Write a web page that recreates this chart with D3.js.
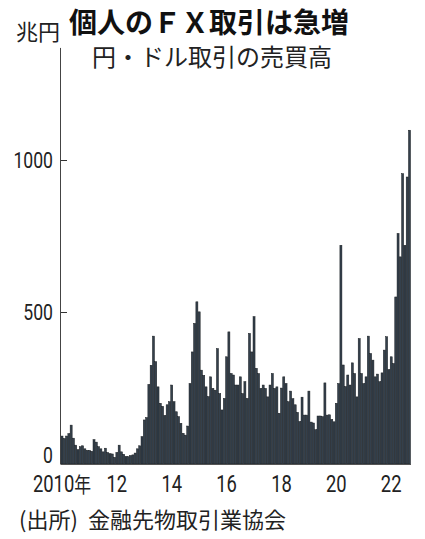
<!DOCTYPE html>
<html><head><meta charset="utf-8">
<script src="https://cdn.jsdelivr.net/npm/d3@7"></script>
<style>html,body{margin:0;padding:0;background:#fff;} svg{display:block}</style>
</head><body><svg id="c" width="425" height="539"></svg>
<script>
// ---- data (兆円, monthly, 2010/01 - 2022/09) ----
const years = [2010, 2011, 2012, 2013, 2014, 2015, 2016, 2017, 2018, 2019, 2020, 2021, 2022];
const v2010 = [92, 84, 92, 100, 128, 85, 62, 47, 57, 60, 50, 45];
const v2011 = [45, 42, 80, 72, 57, 50, 40, 52, 38, 34, 33, 22];
const v2012 = [38, 62, 40, 32, 25, 24, 28, 30, 36, 50, 60, 90];
const v2013 = [145, 153, 262, 325, 421, 337, 254, 200, 190, 160, 195, 205];
const v2014 = [260, 205, 172, 156, 134, 101, 95, 125, 265, 369, 463, 534];
const v2015 = [501, 309, 292, 254, 222, 287, 249, 243, 380, 232, 178, 216];
const v2016 = [353, 435, 298, 293, 260, 260, 287, 232, 271, 216, 430, 369];
const v2017 = [485, 315, 298, 249, 260, 249, 221, 260, 298, 249, 254, 167];
const v2018 = [250, 287, 265, 205, 240, 215, 195, 170, 140, 220, 161, 161];
const v2019 = [240, 138, 135, 113, 158, 158, 156, 267, 161, 162, 147, 139];
const v2020 = [200, 265, 720, 326, 255, 293, 260, 333, 298, 221, 413, 298];
const v2021 = [265, 287, 421, 364, 342, 287, 296, 271, 300, 375, 419, 311];
const v2022 = [353, 331, 550, 759, 682, 956, 720, 945, 1099];
const series = [v2010, v2011, v2012, v2013, v2014, v2015, v2016, v2017, v2018, v2019, v2020, v2021, v2022];

const xTickKeys = ["2010-01", "2012-01", "2014-01", "2016-01", "2018-01", "2020-01", "2022-01"];
const xTickLabels = ["2010年", "12", "14", "16", "18", "20", "22"];
const yTicks = [0, 500, 1000];
const yTickLabels = ["0", "500", "1000"];

const titleText = "個人のＦＸ取引は急増";
const subtitleText = "円・ドル取引の売買高";
const unitText = "兆円";
const sourceLabel = "(出所)";
const sourceText = "金融先物取引業協会";

// ---- build ----
const categories = [];
const values = [];
years.forEach((yr, k) => series[k].forEach((v, m) => {
  categories.push(`${yr}-${String(m + 1).padStart(2, "0")}`);
  values.push(v);
}));
const data = categories.map((c, i) => ({ key: c, value: values[i] }));

const svg = d3.select("#c");
const cjk = "'Noto Sans CJK JP', 'Noto Sans', sans-serif";
const num = "Roboto, 'Liberation Sans', sans-serif";

const x = d3.scaleBand().domain(categories).range([61, 410.5]).paddingInner(0.12).paddingOuter(0);
const y = d3.scaleLinear().domain([0, 1000]).range([464, 160.3]);

// bars
svg.append("g").selectAll("rect").data(data).join("rect")
  .attr("x", d => x(d.key))
  .attr("width", x.bandwidth())
  .attr("y", d => y(d.value))
  .attr("height", d => y(0) - y(d.value))
  .attr("fill", "#34404c")
  .attr("stroke", "#161a1e")
  .attr("stroke-width", 0.5);

// y axis line
svg.append("line")
  .attr("x1", 60.5).attr("x2", 60.5)
  .attr("y1", y(1370)).attr("y2", y(0))
  .attr("stroke", "#444").attr("stroke-width", 1);

// x baseline
svg.append("line")
  .attr("x1", 60.5).attr("x2", x.range()[1] + 0.5)
  .attr("y1", y(0) + 0.5).attr("y2", y(0) + 0.5)
  .attr("stroke", "#555").attr("stroke-width", 1);

// y ticks (inward)
svg.append("g").selectAll("line").data(yTicks.filter(t => t > 0)).join("line")
  .attr("x1", 61).attr("x2", 67)
  .attr("y1", d => Math.round(y(d)) + 0.5).attr("y2", d => Math.round(y(d)) + 0.5)
  .attr("stroke", "#333").attr("stroke-width", 1);

// y tick labels
svg.append("g").selectAll("text").data(yTicks).join("text")
  .attr("transform", (d) => `translate(53,${d === 0 ? y(d) - 1 : y(d) + 8}) scale(0.8,1)`)
  .attr("text-anchor", "end")
  .attr("font-family", num).attr("font-size", 22).attr("fill", "#222")
  .text((d, i) => yTickLabels[i]);

// x tick labels
svg.append("g").selectAll("text").data(xTickKeys).join("text")
  .attr("transform", d => `translate(${x(d) + x.bandwidth() / 2},492) scale(0.8,1)`)
  .attr("text-anchor", "middle")
  .attr("font-family", num)
  .attr("font-size", 23).attr("fill", "#222")
  .each(function (d, i) {
    const t = d3.select(this);
    const lab = xTickLabels[i];
    const m = lab.match(/^(\d+)(.*)$/);
    t.append("tspan").text(m[1]);
    if (m[2]) t.append("tspan").attr("font-family", cjk).attr("font-size", 21).text(m[2]);
  });

// titles
svg.append("text").attr("x", 69).attr("y", 33)
  .attr("font-family", cjk).attr("font-weight", "bold").attr("font-size", 28).attr("fill", "#111")
  .text(titleText);
svg.append("text").attr("x", 92).attr("y", 66)
  .attr("font-family", cjk).attr("font-size", 24).attr("fill", "#222")
  .text(subtitleText);
svg.append("text").attr("x", 16).attr("y", 40)
  .attr("font-family", cjk).attr("font-size", 22).attr("fill", "#222")
  .text(unitText);
const src = svg.append("text").attr("x", 19).attr("y", 528)
  .attr("font-family", cjk).attr("font-size", 22).attr("fill", "#222");
src.append("tspan").text(sourceLabel);
src.append("tspan").attr("dx", 10).text(sourceText);
</script></body></html>
